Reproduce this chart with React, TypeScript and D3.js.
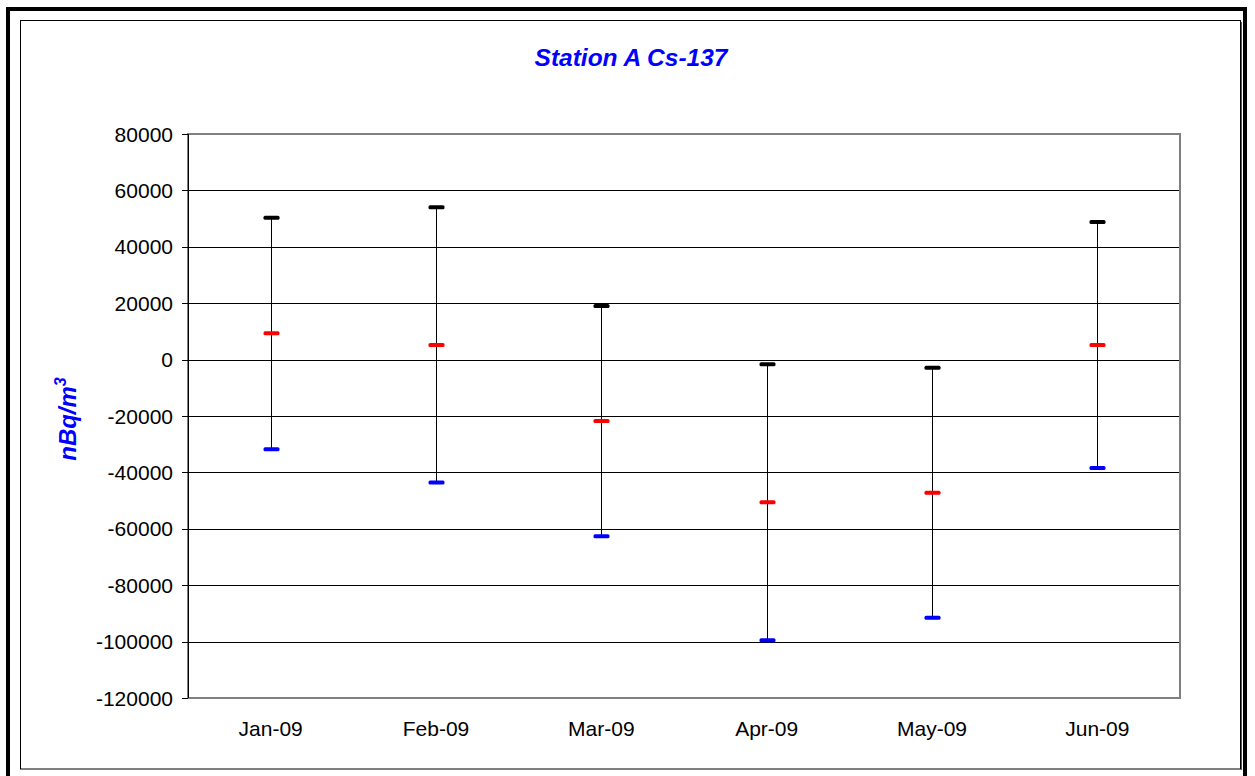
import React from "react";
import * as d3 from "d3";

const categories = ["Jan-09", "Feb-09", "Mar-09", "Apr-09", "May-09", "Jun-09"];
const upperValues = [50300, 54000, 19000, -1650, -2900, 48800];
const meanValues = [9300, 5200, -21800, -50600, -47200, 5200];
const lowerValues = [-31800, -43600, -62600, -99550, -91500, -38400];
const yTicks = [80000, 60000, 40000, 20000, 0, -20000, -40000, -60000, -80000, -100000, -120000];
const chartTitle = "Station A Cs-137";

const W = 1255;
const H = 776;
const plot = { left: 188, right: 1180, top: 134, bottom: 698 };
const FONT = "Arial, 'Liberation Sans', sans-serif";

export default function App() {
  const y = d3.scaleLinear().domain([-120000, 80000]).range([plot.bottom, plot.top]);
  const x = d3.scaleBand<string>().domain(categories).range([plot.left, plot.right]).padding(0);
  const cx = (c: string) => (x(c) as number) + x.bandwidth() / 2;
  const dashW = 16;
  const dashH = 4;

  return (
    <svg
      width={W}
      height={H}
      style={{ position: "absolute", left: 0, top: 0, background: "#fff" }}
    >
      <rect x={0} y={0} width={W} height={H} fill="#fff" />
      {/* outer thick border */}
      <rect x={8} y={9} width={1237} height={820} fill="none" stroke="#000" strokeWidth={4} />
      {/* inner chart area border */}
      <rect x={20.5} y={20.5} width={1220} height={748.5} fill="none" stroke="#000" strokeWidth={1} />
      <line x1={1241.5} y1={22} x2={1241.5} y2={770} stroke="#555" strokeWidth={1} />

      {/* title */}
      <text
        x={631}
        y={66}
        textAnchor="middle"
        fontFamily={FONT}
        fontSize={24.5}
        fontWeight="bold"
        fontStyle="italic"
        fill="#0000ff"
      >
        {chartTitle}
      </text>

      {/* gridlines */}
      {yTicks
        .filter((t) => t !== 80000 && t !== -120000)
        .map((t) => (
          <line
            key={"g" + t}
            x1={plot.left}
            x2={plot.right}
            y1={Math.round(y(t)) + 0.5}
            y2={Math.round(y(t)) + 0.5}
            stroke="#000"
            strokeWidth={1}
          />
        ))}

      {/* plot area border */}
      <rect
        x={plot.left}
        y={plot.top}
        width={plot.right - plot.left}
        height={plot.bottom - plot.top}
        fill="none"
        stroke="#808080"
        strokeWidth={2}
      />

      {/* y axis */}
      <line x1={plot.left + 0.5} x2={plot.left + 0.5} y1={plot.top} y2={plot.bottom} stroke="#000" strokeWidth={1} />
      {yTicks.map((t) => (
        <g key={"t" + t}>
          <line
            x1={plot.left - 6}
            x2={plot.left}
            y1={Math.round(y(t)) + 0.5}
            y2={Math.round(y(t)) + 0.5}
            stroke="#000"
            strokeWidth={1}
          />
          <text
            x={plot.left - 15}
            y={y(t) + 7.5}
            textAnchor="end"
            fontFamily={FONT}
            fontSize={21}
            fill="#000"
          >
            {t}
          </text>
        </g>
      ))}

      {/* y axis title */}
      <text
        transform={`translate(76, 419) rotate(-90)`}
        textAnchor="middle"
        fontFamily={FONT}
        fontSize={24}
        fontWeight="bold"
        fontStyle="italic"
        fill="#0000ff"
      >
        nBq/m
        <tspan fontSize={16} dy={-10}>
          3
        </tspan>
      </text>

      {/* x labels */}
      {categories.map((c) => (
        <text
          key={"x" + c}
          x={cx(c)}
          y={736}
          textAnchor="middle"
          fontFamily={FONT}
          fontSize={21}
          fill="#000"
        >
          {c}
        </text>
      ))}

      {/* whiskers and markers */}
      {categories.map((c, i) => {
        const px = Math.round(cx(c)) + 0.5;
        return (
          <g key={"s" + c}>
            <line x1={px} x2={px} y1={y(upperValues[i])} y2={y(lowerValues[i])} stroke="#000" strokeWidth={1} />
            <rect
              x={px - dashW / 2}
              y={y(upperValues[i]) - dashH / 2}
              width={dashW}
              height={dashH}
              rx={1.5}
              fill="#000"
            />
            <rect
              x={px - dashW / 2}
              y={y(meanValues[i]) - dashH / 2}
              width={dashW}
              height={dashH}
              rx={1.5}
              fill="#ff0000"
            />
            <rect
              x={px - dashW / 2}
              y={y(lowerValues[i]) - dashH / 2}
              width={dashW}
              height={dashH}
              rx={1.5}
              fill="#0000ff"
            />
          </g>
        );
      })}
    </svg>
  );
}
